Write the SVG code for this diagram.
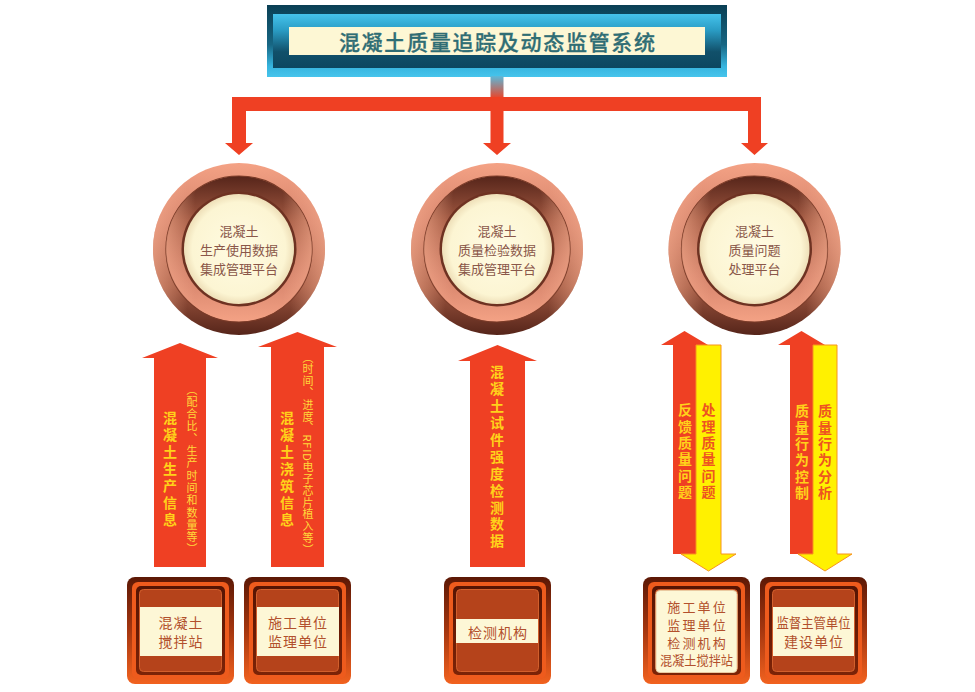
<svg xmlns="http://www.w3.org/2000/svg" width="975" height="692" viewBox="0 0 975 692">
<style>
text{font-family:"Noto Sans CJK SC","Noto Sans",sans-serif;}
.title{font-size:21px;fill:#2f6d74;font-weight:500;letter-spacing:1.7px;stroke:#2f6d74;stroke-width:0.3px;}
.ct{font-size:13px;fill:#8a5749;}
.bt{font-size:14px;fill:#b2502c;}
.bt4{font-size:13px;fill:#b2502c;}
.vb{font-size:14px;font-weight:bold;writing-mode:vertical-rl;}
.vs{font-size:11px;writing-mode:vertical-rl;fill:#ffd93a;}
.ylw{fill:#ffd21a;}
.org{fill:#ee5420;}
.red{fill:#ef4023;}
.yarrow{fill:#fff100;stroke:#f7941d;stroke-width:1;}
</style>
<defs>
<linearGradient id="hdrOuter" x1="0" y1="0" x2="0" y2="1">
<stop offset="0" stop-color="#0a3f54"/><stop offset="0.55" stop-color="#176683"/><stop offset="0.85" stop-color="#36b4de"/><stop offset="1" stop-color="#46c4ec"/>
</linearGradient>
<linearGradient id="hdrInner" x1="0" y1="0" x2="0" y2="1">
<stop offset="0" stop-color="#45c3ec"/><stop offset="0.3" stop-color="#2a9cc4"/><stop offset="0.7" stop-color="#11506a"/><stop offset="1" stop-color="#0c4760"/>
</linearGradient>
<linearGradient id="stem" x1="0" y1="0" x2="0" y2="1">
<stop offset="0" stop-color="#5ab9da"/><stop offset="1" stop-color="#e9462b"/>
</linearGradient>
<linearGradient id="ringOuter" x1="0" y1="0" x2="0" y2="1">
<stop offset="0" stop-color="#f4a285"/><stop offset="0.35" stop-color="#d4826a"/><stop offset="0.72" stop-color="#a05740"/><stop offset="1" stop-color="#56251a"/>
</linearGradient>
<linearGradient id="ringInner" x1="0" y1="0" x2="0" y2="1">
<stop offset="0" stop-color="#56251a"/><stop offset="0.3" stop-color="#a05740"/><stop offset="0.68" stop-color="#d4826a"/><stop offset="1" stop-color="#f4a285"/>
</linearGradient>
<linearGradient id="sideHi" x1="0" y1="0" x2="1" y2="0">
<stop offset="0" stop-color="#ffb596" stop-opacity="0.55"/><stop offset="0.2" stop-color="#ffb596" stop-opacity="0"/><stop offset="0.8" stop-color="#ffb596" stop-opacity="0"/><stop offset="1" stop-color="#ffb596" stop-opacity="0.55"/>
</linearGradient>
<radialGradient id="cream" cx="0.5" cy="0.5" r="0.5">
<stop offset="0" stop-color="#fffbe2"/><stop offset="0.85" stop-color="#fcf5d3"/><stop offset="1" stop-color="#eedfb8"/>
</radialGradient>
<linearGradient id="boxOuter" x1="0" y1="0" x2="0" y2="1">
<stop offset="0" stop-color="#5c1805"/><stop offset="0.5" stop-color="#a5360f"/><stop offset="1" stop-color="#f2621f"/>
</linearGradient>
<linearGradient id="boxDark" x1="0" y1="0" x2="0" y2="1">
<stop offset="0" stop-color="#561403"/><stop offset="1" stop-color="#7c2307"/>
</linearGradient>
<g id="circleBase">
<circle r="86" fill="url(#ringOuter)"/>
<circle r="86" fill="url(#sideHi)"/>
<circle r="73" fill="url(#ringInner)" stroke="#7a3b28" stroke-width="1.2"/>
<circle r="73" fill="url(#sideHi)"/>
<circle r="57.5" fill="#6e3222"/>
<circle r="55" fill="url(#cream)"/>
</g>
<g id="boxBase">
<rect x="0" y="0" width="107" height="107" rx="8" fill="url(#boxOuter)"/>
<rect x="5" y="5" width="97" height="97" rx="6" fill="#ee5b1d"/>
<rect x="9" y="9" width="89" height="89" rx="5" fill="url(#boxDark)"/>
<rect x="12.5" y="12.5" width="82" height="82" rx="4" fill="#b5431b" stroke="#d25f2c" stroke-width="1"/>
</g>
</defs>

<g id="header">
<rect x="267" y="5" width="460" height="72" fill="url(#hdrOuter)"/>
<rect x="273" y="14" width="448" height="54" fill="url(#hdrInner)"/>
<rect x="289" y="27" width="416" height="28" fill="#fdf7d4"/>
<text class="title" x="497.8" y="41" text-anchor="middle" dominant-baseline="central">混凝土质量追踪及动态监管系统</text>
</g>

<g id="connectors">
<rect x="490.5" y="76" width="13" height="22" fill="url(#stem)"/>
<path class="red" d="M232,97 H761 V143 H768 L754.5,155 L741,143 H748 V111 H503.5 V143 H511 L497,155 L483,143 H490.5 V111 H246 V143 H253 L239,155 L225,143 H232 Z"/>
<!-- A -->
<path class="red" d="M180,343 L218,358 H206 V567 H154 V358 H142 Z"/>
<text class="vb ylw" x="170" y="470" text-anchor="middle" letter-spacing="3">混凝土生产信息</text>
<text class="vs" x="192" y="470" text-anchor="middle" letter-spacing="1.3">（配合比、生产时间和数量等）</text>
<!-- B -->
<path class="red" d="M297.5,332 L337,347 H324 V567 H271 V347 H258 Z"/>
<text class="vb ylw" x="287" y="470" text-anchor="middle" letter-spacing="3">混凝土浇筑信息</text>
<text class="vs" x="308" y="454" text-anchor="middle" letter-spacing="0.8">（时间、进度、RFID电子芯片植入等）</text>
<!-- C -->
<path class="red" d="M497.5,345 L537,361 H525 V567 H470 V361 H458 Z"/>
<text class="vb ylw" x="497" y="458" text-anchor="middle" letter-spacing="2.9">混凝土试件强度检测数据</text>
<!-- D -->
<path class="red" d="M684.5,331 L708,345 H697 V554 H673 V345 H661 Z"/>
<path class="yarrow" d="M696,345 H721 V554 H736 L708.5,571 L681,554 H696 Z"/>
<text class="vb ylw" x="685" y="452" text-anchor="middle" letter-spacing="2.4">反馈质量问题</text>
<text class="vb org" x="708.5" y="452" text-anchor="middle" letter-spacing="2.4">处理质量问题</text>
<!-- E -->
<path class="red" d="M801.5,331 L825,345 H813 V554 H790 V345 H778 Z"/>
<path class="yarrow" d="M813,345 H837 V554 H852 L825,571 L798,554 H813 Z"/>
<text class="vb ylw" x="802" y="453" text-anchor="middle" letter-spacing="2.4">质量行为控制</text>
<text class="vb org" x="825" y="453" text-anchor="middle" letter-spacing="2.4">质量行为分析</text>
</g>

<g id="platform1">
<use href="#circleBase" x="239" y="249"/>
<text class="ct" text-anchor="middle" dominant-baseline="central"><tspan x="239" y="230">混凝土</tspan><tspan x="239" y="249">生产使用数据</tspan><tspan x="239" y="268">集成管理平台</tspan></text>
</g>
<g id="platform2">
<use href="#circleBase" x="497" y="249"/>
<text class="ct" text-anchor="middle" dominant-baseline="central"><tspan x="497" y="230">混凝土</tspan><tspan x="497" y="249">质量检验数据</tspan><tspan x="497" y="268">集成管理平台</tspan></text>
</g>
<g id="platform3">
<use href="#circleBase" x="754.5" y="249"/>
<text class="ct" text-anchor="middle" dominant-baseline="central"><tspan x="754.5" y="230">混凝土</tspan><tspan x="754.5" y="249">质量问题</tspan><tspan x="754.5" y="268">处理平台</tspan></text>
</g>

<g id="box1">
<use href="#boxBase" x="127" y="577"/>
<rect x="140" y="607" width="82" height="49" fill="#fdf7d6"/>
<text class="bt" text-anchor="middle" dominant-baseline="central" letter-spacing="1"><tspan x="181" y="622">混凝土</tspan><tspan x="181" y="641">搅拌站</tspan></text>
</g>
<g id="box2">
<use href="#boxBase" x="244" y="577"/>
<rect x="257" y="607" width="82" height="49" fill="#fdf7d6"/>
<text class="bt" text-anchor="middle" dominant-baseline="central" letter-spacing="1"><tspan x="298" y="622">施工单位</tspan><tspan x="298" y="641">监理单位</tspan></text>
</g>
<g id="box3">
<use href="#boxBase" x="444" y="577"/>
<rect x="456" y="619" width="82" height="24" fill="#fdf7d6"/>
<text class="bt" x="498" y="631.5" text-anchor="middle" dominant-baseline="central" letter-spacing="1">检测机构</text>
</g>
<g id="box4">
<use href="#boxBase" x="643" y="577"/>
<rect x="656" y="590.5" width="81" height="82" rx="4" fill="#fdf7d6" stroke="#e9c9a0" stroke-width="1"/>
<text class="bt4" text-anchor="middle" dominant-baseline="central" letter-spacing="2.2"><tspan x="697.6" y="606">施工单位</tspan><tspan x="697.6" y="623.5">监理单位</tspan><tspan x="697.6" y="641.5">检测机构</tspan></text>
<text class="bt4" x="696.5" y="659" text-anchor="middle" dominant-baseline="central" textLength="73" lengthAdjust="spacingAndGlyphs">混凝土搅拌站</text>
</g>
<g id="box5">
<use href="#boxBase" x="760" y="577"/>
<rect x="773" y="607" width="81" height="49" fill="#fdf7d6"/>
<text class="bt" x="813.5" y="622" text-anchor="middle" dominant-baseline="central" textLength="74" lengthAdjust="spacingAndGlyphs">监督主管单位</text>
<text class="bt" x="814" y="641" text-anchor="middle" dominant-baseline="central" letter-spacing="1">建设单位</text>
</g>
</svg>
